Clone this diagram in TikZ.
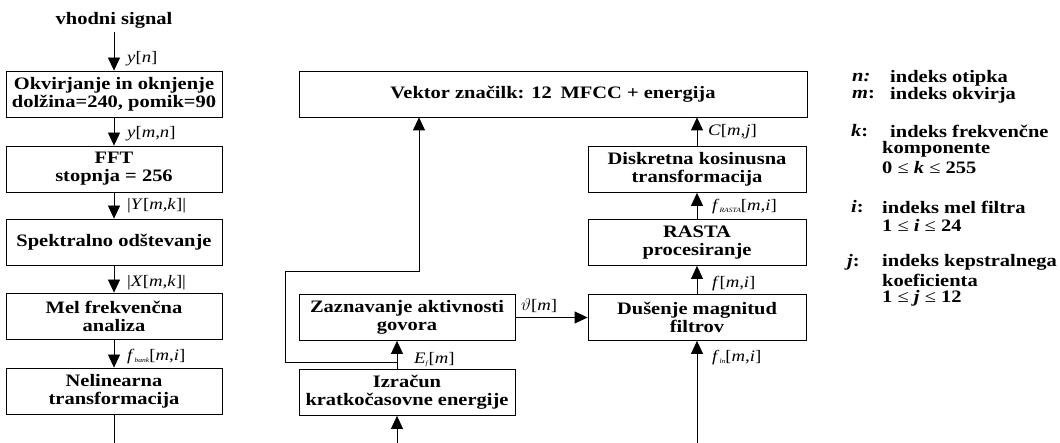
\documentclass[tikz,border=0pt]{standalone}
\usepackage{fontspec}
\setmainfont{Liberation Serif}[FakeStretch=1.17]
\usetikzlibrary{arrows.meta}
\newcommand\mi[1]{\textit{#1}}
\newcommand\sbs[1]{\raisebox{-2pt}{\fontsize{6.5}{6.5}\selectfont\textit{#1}}}
\tikzset{
 blk/.style={draw, line width=0.8pt, minimum width=216pt, minimum height=46pt, inner sep=0pt, align=center, font=\bfseries\fontsize{17.5}{18}\selectfont},
 lbl/.style={anchor=west, inner sep=0pt, font=\fontsize{16}{18}\selectfont},
 leg/.style={anchor=west, inner sep=0pt, font=\bfseries\fontsize{17.5}{18}\selectfont},
 con/.style={line width=0.8pt, -{Triangle[length=13pt,width=12pt]}},
 lin/.style={line width=0.8pt}
}
\begin{document}
\begin{tikzpicture}[x=1pt,y=-1pt]
\useasboundingbox (0,0) rectangle (1060,443);
% left column
\node[inner sep=0pt, font=\bfseries\fontsize{17.5}{18}\selectfont] (vh) at (114,20) {vhodni signal};
\node[blk] (b1) at (114,94) {Okvirjanje in oknjenje\\dolžina=240, pomik=90};
\node[blk] (b2) at (114,169) {FFT\\stopnja = 256};
\node[blk] (b3) at (114,242) {Spektralno odštevanje};
\node[blk] (b4) at (114,316) {Mel frekvenčna\\analiza};
\node[blk] (b5) at (114,391) {Nelinearna\\transformacija};
\coordinate (vtop) at (114,32);
\coordinate (lbot) at (114,443);
\draw[con] (vtop) -- (b1.north);
\draw[con] (b1.south) -- (b2.north);
\draw[con] (b2.south) -- (b3.north);
\draw[con] (b3.south) -- (b4.north);
\draw[con] (b4.south) -- (b5.north);
\draw[lin] (b5.south) -- (lbot);
\node[lbl] (l1) at (127,59) {\mi{y}[\mi{n}]};
\node[lbl] (l2) at (127,134) {\mi{y}[\mi{m,n}]};
\node[lbl] (l3) at (127,206) {|\mi{Y}[\mi{m,k}]|};
\node[lbl] (l4) at (127,283) {|\mi{X}[\mi{m,k}]|};
\node[lbl] (l5) at (127,357) {\mi{f}\sbs{bank}[\mi{m,i}]};
% middle / right
\node[blk, minimum width=508pt] (vek) at (553,94) {Vektor značilk: 12\enspace MFCC + energija};
\node[blk, minimum width=218pt] (dct) at (697,169.5) {Diskretna kosinusna\\transformacija};
\node[blk, minimum width=218pt] (ras) at (697,242.5) {RASTA\\procesiranje};
\node[blk, minimum width=218pt] (dus) at (697,317.5) {Dušenje magnitud\\filtrov};
\node[blk] (zaz) at (407,317.5) {Zaznavanje aktivnosti\\govora};
\node[blk] (izr) at (407,392.5) {Izračun\\kratkočasovne energije};
\draw[con] (dct.north) -- (dct.north |- vek.south);
\draw[con] (ras.north) -- (dct.south);
\draw[con] (dus.north) -- (ras.south);
\coordinate (rbot) at (697,443);
\draw[con] (rbot) -- (dus.south);
\coordinate (mbot) at (397,443);
\draw[con] (mbot) -- ([xshift=-10pt]izr.south);
\draw[con] ([xshift=-10pt]izr.north) -- ([xshift=-10pt]zaz.south);
\draw[con] (zaz.east) -- (dus.west);
\coordinate (jn) at (397,362);
\coordinate (lp) at (285,362);
\coordinate (tp) at (419,271);
\draw[con] (jn) -- (lp) -- (lp |- tp) -- (tp) -- (tp |- vek.south);
\node[lbl] (lc) at (708,132) {\mi{C}[\mi{m,j}]};
\node[lbl] (lr) at (712,207) {\mi{f}\sbs{RASTA}[\mi{m,i}]};
\node[lbl] (lf) at (712,284) {\mi{f}[\mi{m,i}]};
\node[lbl] (ll) at (712,358) {\mi{f}\sbs{ln}[\mi{m,i}]};
\node[lbl] (lt) at (521,306) {$\vartheta$[\mi{m}]};
\node[lbl] (le) at (414,360) {\mi{E}\sbs{f}[\mi{m}]};
% legend
\node[leg] (gn) at (852,78) {\textit{n:}};
\node[leg] (gn2) at (890,78) {indeks otipka};
\node[leg] (gm) at (852,95) {\textit{m}:};
\node[leg] (gm2) at (890,95) {indeks okvirja};
\node[leg] (gk) at (851,131) {\textit{k}:};
\node[leg] (gk2) at (890,131) {indeks frekvenčne};
\node[leg] (gk3) at (882,149.5) {komponente};
\node[leg] (gk4) at (882,168) {0 {\mdseries≤} \textit{k} {\mdseries≤} 255};
\node[leg] (gi) at (851,207) {\textit{i}:};
\node[leg] (gi2) at (882,207) {indeks mel filtra};
\node[leg] (gi3) at (882,225) {1 {\mdseries≤} \textit{i} {\mdseries≤} 24};
\node[leg] (gj) at (847,262) {\textit{j}:};
\node[leg] (gj2) at (882,262) {indeks kepstralnega};
\node[leg] (gj3) at (882,280) {koeficienta};
\node[leg] (gj4) at (882,298) {1 {\mdseries≤} \textit{j} {\mdseries≤} 12};
\end{tikzpicture}
\end{document}
